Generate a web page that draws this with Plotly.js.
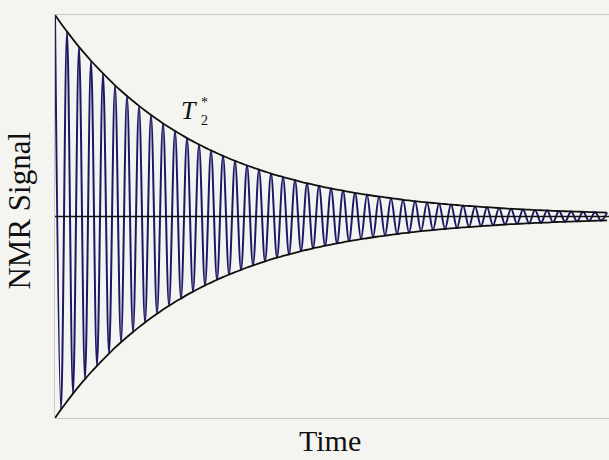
<!DOCTYPE html>
<html>
<head>
<meta charset="utf-8">
<script src="https://cdn.plot.ly/plotly-3.0.1.min.js"></script>
<style>
  html, body { margin: 0; padding: 0; background: #f4f5f0; }
  #chart { width: 609px; height: 460px; }
</style>
</head>
<body>
<div id="chart"></div>
<script>
// Free induction decay: successive extrema of the precessing signal,
// one value per half period, in units of the initial amplitude.
const peakAmplitude = [
  1.000, 0.958, 0.918, 0.879, 0.842, 0.807, 0.773, 0.741, 0.710, 0.680,
  0.651, 0.624, 0.598, 0.573, 0.549, 0.526, 0.504, 0.483, 0.462, 0.443,
  0.424, 0.407, 0.389, 0.373, 0.357, 0.342, 0.328, 0.314, 0.301, 0.288,
  0.276, 0.265, 0.253, 0.243, 0.233, 0.223, 0.213, 0.204, 0.196, 0.188,
  0.180, 0.172, 0.165, 0.158, 0.152, 0.145, 0.139, 0.133, 0.128, 0.122,
  0.117, 0.112, 0.108, 0.103, 0.099, 0.095, 0.091, 0.087, 0.083, 0.080,
  0.076, 0.073, 0.070, 0.067, 0.064, 0.062, 0.059, 0.057, 0.054, 0.052,
  0.050, 0.048, 0.046, 0.044, 0.042, 0.040, 0.038, 0.037, 0.035, 0.034,
  0.032, 0.031, 0.030, 0.028, 0.027, 0.026, 0.025, 0.024, 0.023, 0.022,
  0.021, 0.020, 0.019
];
// Time between successive extrema (half a precession period), in units of T2*
const halfPeriod = 0.04286;
const timeRange = [0, 3.957];

const axisTitle = "Time";
const signalTitle = "NMR Signal";

// Signed signal: extrema alternate between positive and negative
const signal = peakAmplitude.map((a, i) => (i % 2 === 0 ? a : -a));
const envelopeLower = peakAmplitude.map(a => -a);

const traces = [
  {
    y: signal, x0: 0, dx: halfPeriod, type: "scatter", mode: "lines",
    line: { color: "#1b1966", width: 2.0, shape: "spline", smoothing: 1 },
    hoverinfo: "skip"
  },
  {
    y: peakAmplitude, x0: 0, dx: halfPeriod, type: "scatter", mode: "lines",
    line: { color: "#111111", width: 1.8, shape: "spline" },
    hoverinfo: "skip"
  },
  {
    y: envelopeLower, x0: 0, dx: halfPeriod, type: "scatter", mode: "lines",
    line: { color: "#111111", width: 1.8, shape: "spline" },
    hoverinfo: "skip"
  }
];

const serif = "Liberation Serif, Times New Roman, serif";
const ink = "#111111";

const layout = {
  width: 609, height: 460,
  margin: { l: 55, r: 0, t: 15, b: 42 },
  paper_bgcolor: "#f4f5f0",
  plot_bgcolor: "#f4f5f0",
  showlegend: false,
  font: { family: serif, color: ink },
  xaxis: {
    range: timeRange, showgrid: false, zeroline: false,
    showticklabels: false, ticks: "",
    showline: true, mirror: true, linecolor: "#c9ccc0", linewidth: 1
  },
  yaxis: {
    range: [-1, 1], showgrid: false, zeroline: false,
    showticklabels: false, ticks: "",
    showline: true, mirror: false, linecolor: "#c9ccc0", linewidth: 1
  },
  shapes: [
    { type: "line", xref: "paper", x0: 0, x1: 1, yref: "y", y0: 0, y1: 0,
      line: { color: ink, width: 1.4 }, layer: "above" }
  ],
  annotations: [
    // axis labels, set close to the page edges
    { text: axisTitle, xref: "paper", yref: "paper", x: 0.4955, y: -0.055,
      xanchor: "center", yanchor: "middle", borderpad: 0, showarrow: false,
      font: { family: serif, size: 30, color: ink } },
    { text: signalTitle, xref: "paper", yref: "paper", x: -0.0641, y: 0.516,
      xanchor: "center", yanchor: "middle", textangle: -90, showarrow: false,
      font: { family: serif, size: 31, color: ink } },
    // T2* label beside the upper envelope
    { text: "<i>T</i>", x: 0.96, y: 0.527, xref: "x", yref: "y",
      showarrow: false, font: { family: serif, size: 26, color: ink } },
    { text: "*<br>2", x: 1.071, y: 0.522, xref: "x", yref: "y",
      align: "left", borderpad: 0, showarrow: false,
      font: { family: serif, size: 14, color: ink } }
  ]
};

Plotly.newPlot("chart", traces, layout, { staticPlot: true, displayModeBar: false });
</script>
</body>
</html>
